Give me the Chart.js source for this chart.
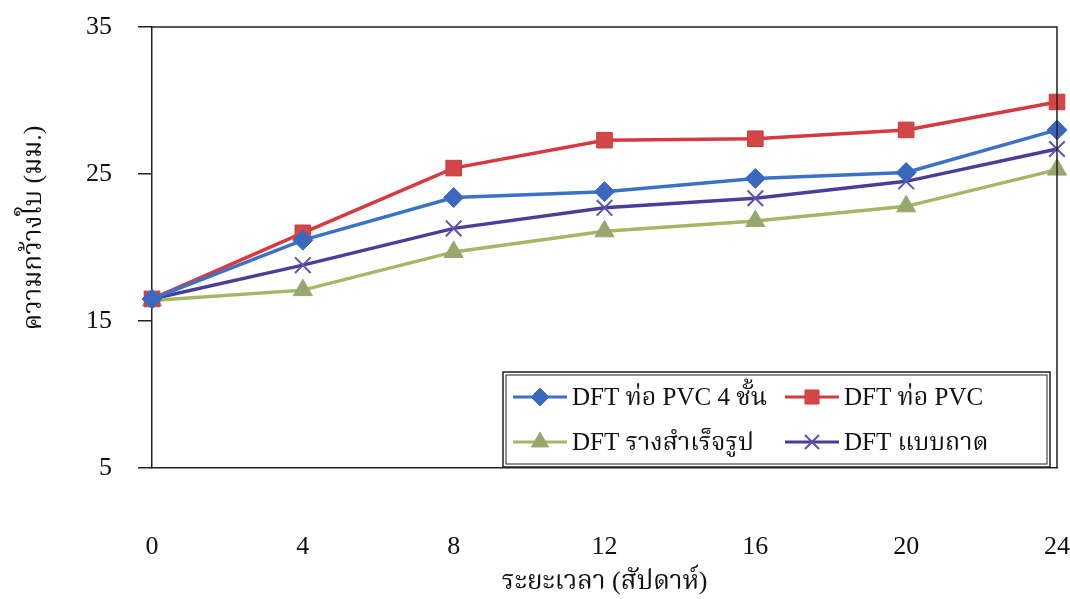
<!DOCTYPE html>
<html>
<head>
<meta charset="utf-8">
<script src="https://cdn.jsdelivr.net/npm/chart.js@4.4.1/dist/chart.umd.min.js"></script>
<style>
html,body{margin:0;padding:0;background:#fff;}
#wrap{width:1070px;height:599px;position:relative;}
</style>
</head>
<body>
<div id="wrap"><canvas id="c" width="1070" height="599"></canvas></div>
<script>
const weeks = [0, 4, 8, 12, 16, 20, 24];
const xTicks = [0, 4, 8, 12, 16, 20, 24];
const yTicks = [5, 15, 25, 35];
const seriesNames = ['DFT ท่อ PVC 4 ชั้น', 'DFT ท่อ PVC', 'DFT รางสำเร็จรูป', 'DFT แบบถาด'];
const pvc4 = [16.5, 20.5, 23.4, 23.8, 24.7, 25.1, 28.0];
const pvc = [16.5, 21.0, 25.4, 27.3, 27.4, 28.0, 29.9];
const rail = [16.4, 17.1, 19.7, 21.1, 21.8, 22.8, 25.3];
const tray = [16.5, 18.8, 21.3, 22.7, 23.35, 24.5, 26.7];
const xTitle = 'ระยะเวลา (สัปดาห์)';
const yTitle = 'ความกว้างใบ (มม.)';

const FONT = "'Liberation Serif', 'Noto Serif Thai', 'Noto Sans Thai', 'Times New Roman', serif";

function pts(arr){ return weeks.map((w,i)=>({x:w,y:arr[i]})); }

const datasets = [
  {label: seriesNames[0], data: pts(pvc4), borderColor:'#3b72c6', backgroundColor:'#3a68bd', pointStyle:'rectRot', pointRadius:10, pointBorderColor:'#3a68bd', pointBorderWidth:1},
  {label: seriesNames[1], data: pts(pvc), borderColor:'#d8383f', backgroundColor:'#d34747', pointStyle:'rect', pointRadius:11, pointBorderColor:'#c83b3f', pointBorderWidth:1},
  {label: seriesNames[2], data: pts(rail), borderColor:'#a3b765', backgroundColor:'#97a86f', pointStyle:'triangle', pointRadius:11, pointBorderColor:'#97a86f', pointBorderWidth:1},
  {label: seriesNames[3], data: pts(tray), borderColor:'#4a3e98', backgroundColor:'#5a58b0', pointStyle:'cross', pointRadius:11, pointBorderColor:'#5856b0', pointBorderWidth:2, pointRotation:45}
];
datasets.forEach(d=>{ d.borderWidth=3.5; d.fill=false; d.tension=0; d.clip=false; });

function zeroPad(s){ s.paddingLeft = 0; s.paddingRight = 0; s.paddingTop = 0; s.paddingBottom = 0; }

const frame = {
  id:'frame',
  afterDraw(chart){
    const {ctx, chartArea:a} = chart;
    ctx.save();
    ctx.strokeStyle='#222'; ctx.lineWidth=1.5;
    ctx.beginPath();
    ctx.moveTo(a.left, a.top); ctx.lineTo(a.right, a.top); ctx.lineTo(a.right, a.bottom);
    ctx.stroke();
    // y title
    ctx.translate(34, 228);
    ctx.rotate(-Math.PI/2);
    ctx.fillStyle='#111';
    ctx.font = "26px " + FONT;
    ctx.textAlign='center'; ctx.textBaseline='middle';
    ctx.fillText(yTitle, 0, 0);
    ctx.restore();

    // legend box
    const L = 503, T = 372, R = 1050, B = 467;
    ctx.save();
    ctx.fillStyle='#fff';
    ctx.fillRect(L, T, R-L, B-T);
    ctx.strokeStyle='#222'; ctx.lineWidth=1.5;
    ctx.strokeRect(L, T, R-L, B-T);
    ctx.lineWidth=1;
    ctx.strokeRect(L+3, T+3, R-L-6, B-T-6);
    const items = [
      {ds:0, x:513, y:397}, {ds:1, x:785, y:397},
      {ds:2, x:513, y:442}, {ds:3, x:785, y:442}
    ];
    ctx.font = "25px " + FONT;
    ctx.textBaseline='middle'; ctx.textAlign='left';
    items.forEach(it=>{
      const d = chart.data.datasets[it.ds];
      ctx.strokeStyle = d.borderColor; ctx.lineWidth = 3;
      ctx.beginPath(); ctx.moveTo(it.x, it.y); ctx.lineTo(it.x+54, it.y); ctx.stroke();
      ctx.fillStyle = d.backgroundColor; ctx.strokeStyle = d.pointBorderColor;
      ctx.lineWidth = d.pointBorderWidth;
      Chart.helpers.drawPoint(ctx, {pointStyle:d.pointStyle, radius:d.pointRadius*0.9, borderWidth:d.pointBorderWidth, rotation:d.pointRotation||0}, it.x+27, it.y);
      ctx.fillStyle='#111';
      ctx.fillText(d.label, it.x+59, it.y+1);
    });
    ctx.restore();
  }
};

new Chart(document.getElementById('c'), {
  type:'line',
  data:{datasets},
  options:{
    responsive:false,
    animation:false,
    devicePixelRatio:1,
    layout:{padding:{top:27, right:12, left:0, bottom:0}},
    plugins:{legend:{display:false}, tooltip:{enabled:false}},
    scales:{
      x:{
        type:'linear', min:0, max:24,
        afterBuildTicks(s){ s.ticks = xTicks.map(v=>({value:v})); },
        afterFit(s){ s.height = 599-468; zeroPad(s); },
        grid:{drawOnChartArea:false, drawTicks:false},
        border:{color:'#222', width:1.5},
        ticks:{padding:64, color:'#111', font:{family:FONT, size:26}},
        title:{display:true, text:xTitle, color:'#111', font:{family:FONT, size:26}, padding:{top:0,bottom:1}}
      },
      y:{
        min:5, max:35,
        afterBuildTicks(s){ s.ticks = yTicks.map(v=>({value:v})); },
        afterFit(s){ s.width = 152; zeroPad(s); },
        grid:{drawOnChartArea:false, drawTicks:true, tickLength:14, color:'#222', lineWidth:1.5},
        border:{color:'#222', width:1.5},
        ticks:{padding:26, color:'#111', font:{family:FONT, size:26}}
      }
    }
  },
  plugins:[frame]
});
</script>
</body>
</html>
